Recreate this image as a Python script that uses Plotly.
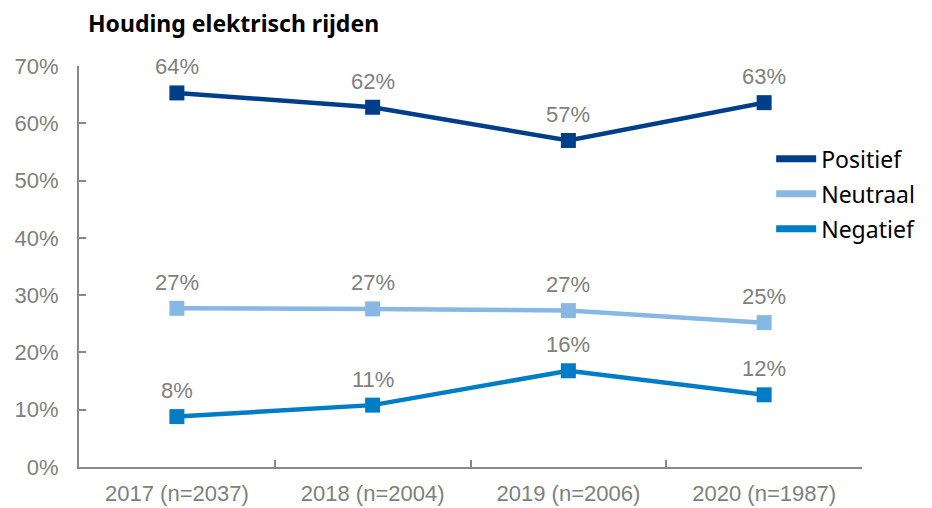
import plotly.graph_objects as go

# Data
years = ['2017 (n=2037)', '2018 (n=2004)', '2019 (n=2006)', '2020 (n=1987)']
positief = [65.3, 62.8, 57.0, 63.6]
neutraal = [27.7, 27.6, 27.3, 25.2]
negatief = [8.8, 10.8, 16.8, 12.6]
positief_labels = ['64%', '62%', '57%', '63%']
neutraal_labels = ['27%', '27%', '27%', '25%']
negatief_labels = ['8%', '11%', '16%', '12%']

series = [
    ('Positief', positief, positief_labels, '#003e8a'),
    ('Neutraal', neutraal, neutraal_labels, '#86b8e3'),
    ('Negatief', negatief, negatief_labels, '#007dc5'),
]

GRAY = '#808080'

fig = go.Figure()
annotations = []
for name, values, labels, color in series:
    fig.add_trace(go.Scatter(
        x=years, y=values, name=name, mode='lines+markers',
        line=dict(color=color, width=4.5),
        marker=dict(symbol='square', size=15, color=color),
        showlegend=False, hoverinfo='x+y'))
    # legend-only trace so the legend shows a plain line
    fig.add_trace(go.Scatter(
        x=[None], y=[None], name=name, mode='lines', legendgroup=name,
        line=dict(color=color, width=7)))
    for x, y, t in zip(years, values, labels):
        annotations.append(dict(
            x=x, y=y, text=t, showarrow=False, yshift=26,
            font=dict(family='Liberation Sans', size=22, color=GRAY)))

# page body has an 8px margin, so the figure is a bit smaller than the window
fig.update_layout(
    width=924, height=500,
    margin=dict(l=71, r=67, t=58, b=41),
    paper_bgcolor='white', plot_bgcolor='white',
    title=dict(text='<b>Houding elektrisch rijden</b>', x=80 / 924, xanchor='left',
               y=1 - 16 / 500, yanchor='middle',
               font=dict(family='Noto Sans', size=23, color='black')),
    legend=dict(x=0.884, y=0.822, xanchor='left', yanchor='top',
                font=dict(family='Noto Sans', size=23, color='black'),
                bgcolor='rgba(0,0,0,0)', tracegroupgap=2, itemwidth=40),
    annotations=annotations,
)

fig.update_xaxes(
    type='category', range=[-0.5, 3.5], automargin=False,
    showline=True, linecolor='#888888', linewidth=2,
    ticks='inside', tickson='boundaries', ticklen=7, tickcolor='#888888', tickwidth=1.5,
    ticklabelstandoff=6,
    showgrid=False, tickfont=dict(family='Liberation Sans', size=22, color=GRAY))

fig.update_yaxes(
    range=[0, 70], dtick=10, ticksuffix='%', automargin=False,
    showline=True, linecolor='#888888', linewidth=2,
    ticks='inside', ticklen=7, tickcolor='#888888', tickwidth=1.5,
    ticklabelstandoff=14,
    showgrid=False, zeroline=False,
    tickfont=dict(family='Liberation Sans', size=22, color=GRAY))

fig.write_html('out.html')
